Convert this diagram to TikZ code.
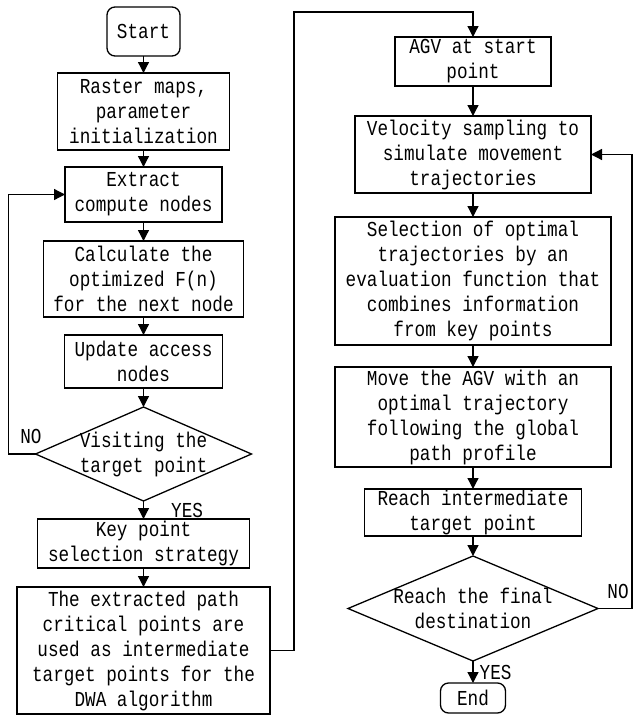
\documentclass[tikz,border=0pt]{standalone}
\usepackage{fontspec}
\newfontfamily\chartmono{Liberation Mono}[FakeStretch=0.83]
\usetikzlibrary{positioning,shapes.geometric,arrows.meta}

\tikzset{
  process/.style={draw, line width=1.3pt, outer sep=0pt, align=center, inner xsep=2pt, inner ysep=0.5pt,
    font={\chartmono\fontsize{21.3pt}{25pt}\selectfont}},
  terminal/.style={process, rounded corners=8pt},
  decision/.style={draw, diamond, line width=1.3pt, outer sep=0pt, inner sep=0pt},
  arrow/.style={-{Triangle[length=11pt,width=11pt]}, line width=1.3pt},
  lbl/.style={inner sep=0pt, font={\chartmono\fontsize{21.3pt}{25pt}\selectfont}},
}

\begin{document}
\begin{tikzpicture}[x=1pt, y=-1pt]
  \useasboundingbox (0,0) rectangle (632,715);

  % Nodes, left column
  \node[terminal, minimum width=73pt, minimum height=49pt] (start) at (143.5,31.5) {Start};
  \node[process, below=17pt of start, minimum width=172pt, minimum height=77pt] (raster)
    {Raster maps,\\parameter\\initialization};
  \node[process, below=17pt of raster, minimum width=157pt, minimum height=55pt] (extract)
    {Extract\\compute nodes};
  \node[process, below=19pt of extract, minimum width=200pt, minimum height=76pt] (calc)
    {Calculate the\\optimized F(n)\\for the next node};
  \node[process, below=18pt of calc, minimum width=158pt, minimum height=53pt] (update)
    {Update access\\nodes};
  \node[decision, below=19pt of update, minimum width=216pt, minimum height=94pt,
    label={[lbl, align=center]center:Visiting the\\target point}] (visit) {};
  \node[process, below=18pt of visit, minimum width=212pt, minimum height=49pt] (key)
    {Key point\\selection strategy};
  \node[process, below=19pt of key, minimum width=253pt, minimum height=127pt] (extracted)
    {The extracted path\\critical points are\\used as intermediate\\target points for the\\DWA algorithm};

  % Nodes, right column
  \node[process, minimum width=156pt, minimum height=49pt] (agv) at (473,61.5)
    {AGV at start\\point};
  \node[process, below=30pt of agv, minimum width=236pt, minimum height=77pt] (velocity)
    {Velocity sampling to\\simulate movement\\trajectories};
  \node[process, below=24pt of velocity, minimum width=276pt, minimum height=128pt] (select)
    {Selection of optimal\\trajectories by an\\evaluation function that\\combines information\\from key points};
  \node[process, below=22pt of select, minimum width=276pt, minimum height=100pt] (move)
    {Move the AGV with an\\optimal trajectory\\following the global\\path profile};
  \node[process, below=22pt of move, minimum width=217pt, minimum height=47pt] (reach)
    {Reach intermediate\\target point};
  \node[decision, below=20pt of reach, minimum width=250pt, minimum height=105pt,
    label={[lbl, align=center]center:Reach the final\\destination}] (final) {};
  \node[terminal, below=22pt of final, minimum width=65pt, minimum height=30pt] (finish) {End};

  % Edges
  \draw[arrow] (start) -- (raster);
  \draw[arrow] (raster) -- (extract);
  \draw[arrow] (extract) -- (calc);
  \draw[arrow] (calc) -- (update);
  \draw[arrow] (update) -- (visit);
  \draw[arrow] (visit) -- node[lbl, right=27pt] {YES} (key);
  \draw[arrow] (visit.west) -- node[lbl, above=10pt, xshift=9pt] {NO} ++(-27,0) |- (extract.west);
  \draw[arrow] (key) -- (extracted);
  \draw[arrow] (extracted.east) -- ++(24,0) |- ([yshift=25pt]agv.north) -- (agv.north);

  \draw[arrow] (agv) -- (velocity);
  \draw[arrow] (velocity) -- (select);
  \draw[arrow] (select) -- (move);
  \draw[arrow] (move) -- (reach);
  \draw[arrow] (reach) -- (final);
  \draw[arrow] (final) -- node[lbl, right=6pt] {YES} (finish);
  \draw[arrow] (final.east) -- node[lbl, above=9pt, xshift=3pt] {NO} ++(34,0) |- (velocity.east);
\end{tikzpicture}
\end{document}
